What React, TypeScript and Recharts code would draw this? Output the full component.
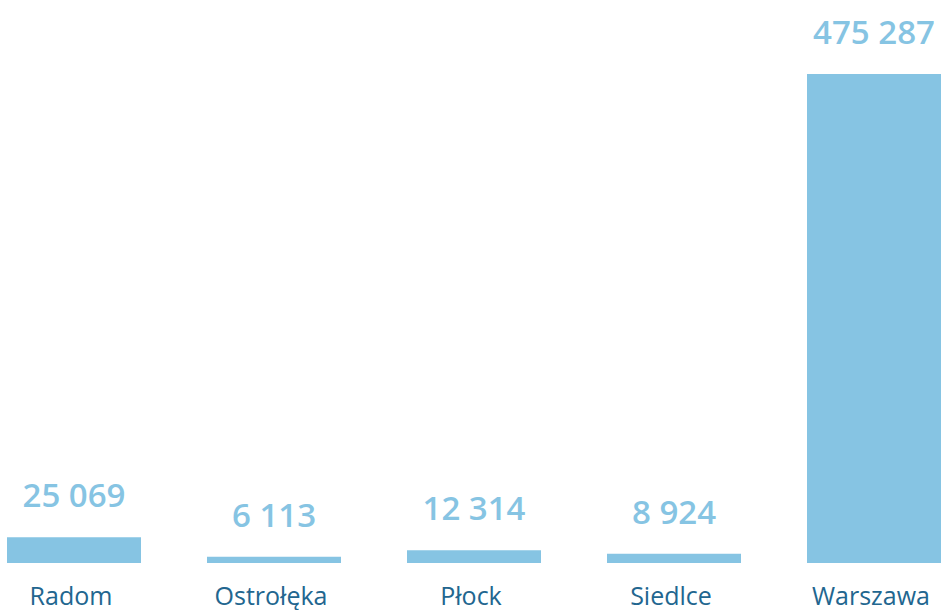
import React from "react";
import { BarChart, Bar, XAxis, YAxis, LabelList } from "recharts";

const cities = ["Radom", "Ostrołęka", "Płock", "Siedlce", "Warszawa"];
const values = [25069, 6113, 12314, 8924, 475287];

const data = cities.map((name, i) => ({ name, value: values[i] }));

const BAR = "#86c4e3";
const TEXT = "#22668f";
const FONT = "'Open Sans', 'Noto Sans', sans-serif";

const fmt = (v: number) => v.toLocaleString("en-US").replace(/,/g, " ");

const ValueLabel = (props: any) => {
  const { x, y, width, value } = props;
  return (
    <text
      x={x + width / 2}
      y={y - 30}
      textAnchor="middle"
      fill={BAR}
      fontFamily={FONT}
      fontWeight={600}
      fontSize={33}
    >
      {fmt(value)}
    </text>
  );
};

const CatTick = (props: any) => {
  const { x, y, payload } = props;
  return (
    <text
      x={x - 3}
      y={y + 34}
      textAnchor="middle"
      fill={TEXT}
      fontFamily={FONT}
      fontSize={25}
    >
      {payload.value}
    </text>
  );
};

export default function App() {
  return (
    <div
      style={{
        position: "fixed",
        left: 0,
        top: 0,
        width: 942,
        height: 610,
        overflow: "hidden",
        background: "#fff",
      }}
    >
      <div style={{ position: "absolute", left: -26, top: 0 }}>
        <BarChart
          width={1000}
          height={610}
          data={data}
          margin={{ top: 74, right: 0, bottom: 0, left: 0 }}
          barCategoryGap={33}
        >
          <XAxis
            dataKey="name"
            axisLine={false}
            tickLine={false}
            height={47}
            interval={0}
            tick={<CatTick />}
          />
          <YAxis hide domain={[0, 475287]} />
          <Bar dataKey="value" fill={BAR} isAnimationActive={false}>
            <LabelList dataKey="value" content={<ValueLabel />} />
          </Bar>
        </BarChart>
      </div>
    </div>
  );
}
